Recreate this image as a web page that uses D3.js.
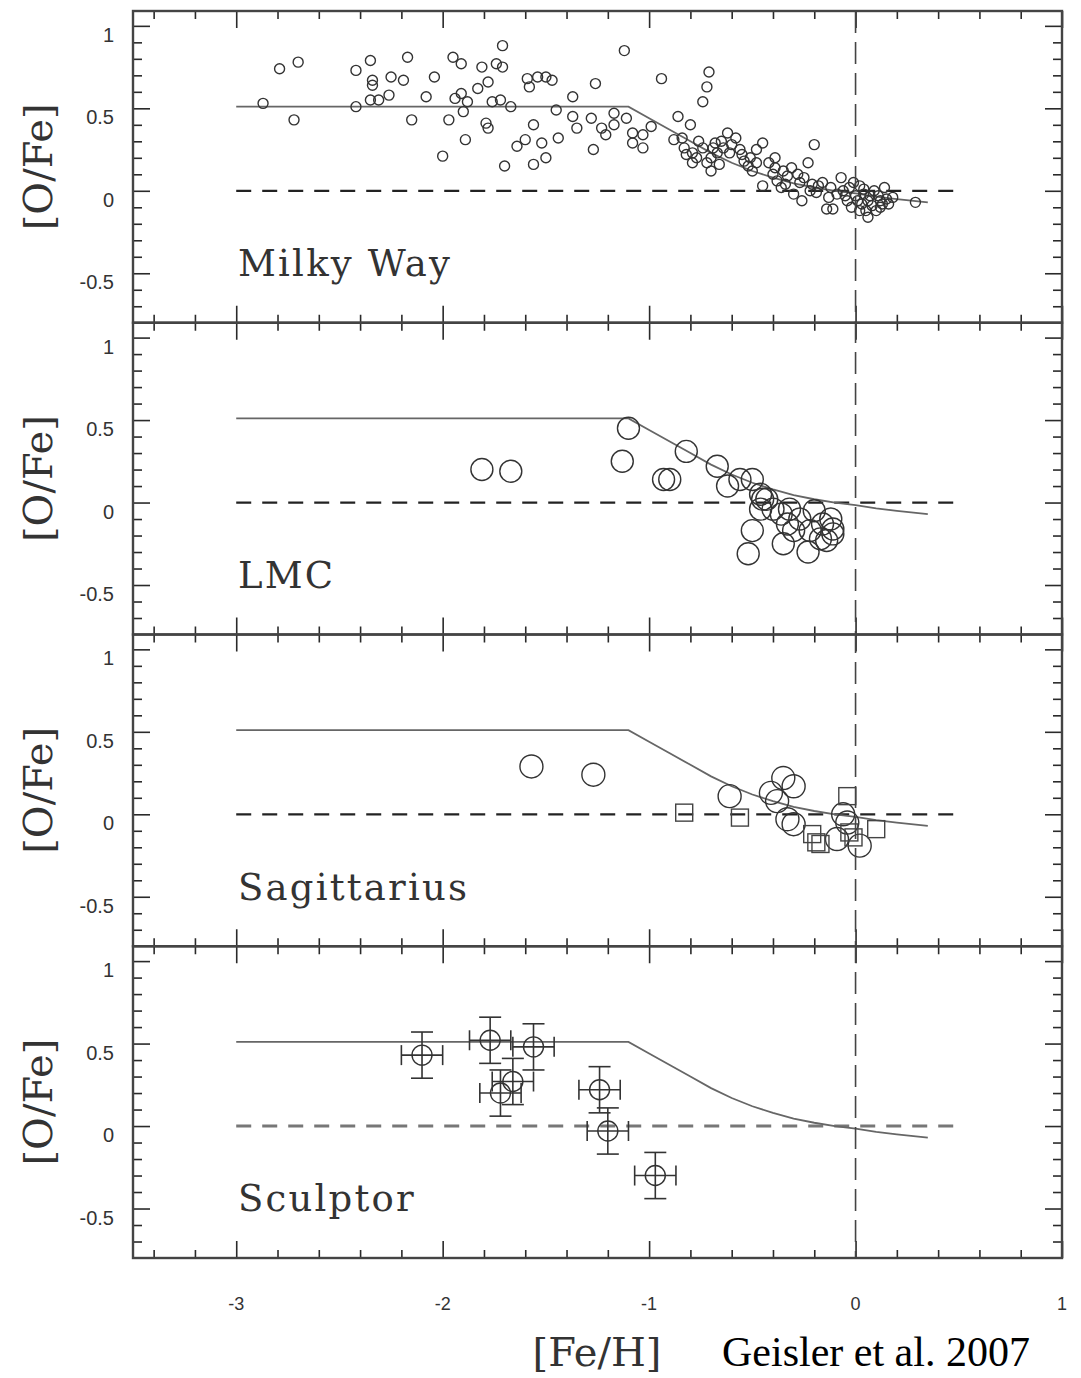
<!DOCTYPE html>
<html>
<head>
<meta charset="utf-8">
<script src="https://cdn.jsdelivr.net/npm/d3@7"></script>
<style>
  body { margin: 0; background: #fff; }
  svg { display: block; }
</style>
</head>
<body>
<svg id="chart" width="1081" height="1378"></svg>
<script>
// ---- [O/Fe] vs [Fe/H] for four galaxies ----

const panelNames = ["Milky Way", "LMC", "Sagittarius", "Sculptor"];

// Milky Way stars
const mwFeH = [-2.79,-2.70,-2.87,-2.72,-2.42,-2.42,-2.35,-2.17,-2.34,-2.34,-2.25,-2.19,-2.04,-1.95,-1.91,-1.81,-1.74,-1.71,-1.71,-1.78,
  -1.83,-2.35,-2.31,-2.26,-2.08,-2.15,-1.97,-1.94,-1.91,-1.88,-1.90,-1.89,-2.00,-1.79,-1.78,-1.76,-1.72,-1.67,-1.59,-1.58,
  -1.54,-1.50,-1.47,-1.56,-1.64,-1.60,-1.52,-1.50,-1.56,-1.70,-1.45,-1.44,-1.37,-1.37,-1.35,-1.28,-1.26,-1.27,-1.23,-1.21,
  -1.17,-1.17,-1.12,-1.11,-1.08,-1.08,-1.03,-1.03,-0.99,-0.94,-0.86,-0.80,-0.71,-0.72,-0.74,-0.88,-0.84,-0.83,-0.79,-0.79,
  -0.74,-0.72,-0.70,-0.68,-0.67,-0.62,-0.58,-0.64,-0.61,-0.56,-0.54,-0.51,-0.48,-0.50,-0.45,-0.48,-0.45,-0.39,-0.39,-0.38,
  -0.33,-0.31,-0.27,-0.23,-0.20,-0.30,-0.26,-0.19,-0.16,-0.14,-0.11,-0.07,-0.06,-0.04,-0.01,-0.02,0.00,0.02,0.02,0.06,
  0.06,0.09,0.10,0.12,0.14,0.16,0.18,0.29,-0.65,-0.60,-0.55,-0.52,-0.42,-0.35,-0.25,-0.18,-0.12,-0.09,
  0.04,0.08,-0.03,0.12,-0.70,-0.76,-0.36,-0.22,-0.13,0.03,
  0.04,0.07,0.11,0.13,0.05,-0.05,0.01,0.15,-0.40,-0.28,-0.21,-0.34,-0.82,-0.77,-0.66,-0.69];
const mwOFe = [0.74,0.78,0.53,0.43,0.73,0.51,0.79,0.81,0.67,0.64,0.69,0.67,0.69,0.81,0.77,0.75,0.77,0.88,0.75,0.66,
  0.62,0.55,0.55,0.58,0.57,0.43,0.43,0.56,0.59,0.54,0.48,0.31,0.21,0.41,0.38,0.54,0.55,0.51,0.68,0.63,
  0.69,0.69,0.67,0.40,0.27,0.31,0.29,0.20,0.16,0.15,0.49,0.32,0.57,0.45,0.38,0.44,0.65,0.25,0.38,0.34,
  0.47,0.40,0.85,0.44,0.35,0.29,0.34,0.26,0.39,0.68,0.45,0.40,0.72,0.63,0.54,0.31,0.32,0.26,0.23,0.17,
  0.26,0.17,0.12,0.29,0.23,0.35,0.32,0.26,0.23,0.25,0.18,0.20,0.17,0.12,0.29,0.25,0.03,0.20,0.14,0.06,
  0.09,0.14,0.05,0.17,0.28,-0.02,-0.06,-0.01,0.05,-0.11,-0.11,0.08,0.00,-0.06,0.05,-0.10,-0.03,0.03,-0.12,-0.06,
  -0.16,0.00,-0.12,-0.06,0.02,-0.08,-0.04,-0.07,0.30,0.28,0.22,0.15,0.17,0.12,0.08,0.03,0.02,-0.02,
  -0.02,-0.09,0.02,-0.10,0.20,0.30,0.02,0.00,-0.04,-0.08,
  0.01,-0.03,-0.03,-0.08,-0.12,-0.03,-0.06,-0.05,0.10,0.10,0.04,0.04,0.22,0.20,0.16,0.26];

// LMC giants
const lmcFeH = [-1.81,-1.67,-1.10,-1.13,-0.93,-0.90,-0.82,-0.67,-0.62,-0.56,-0.50,-0.46,-0.45,-0.43,-0.46,-0.50,-0.52,
  -0.40,-0.36,-0.32,-0.33,-0.35,-0.30,-0.27,-0.23,-0.20,-0.22,-0.17,-0.12,-0.11,-0.11,-0.14,-0.16];
const lmcOFe = [0.20,0.19,0.45,0.25,0.14,0.14,0.31,0.22,0.10,0.14,0.14,0.05,0.02,0.02,-0.04,-0.17,-0.31,
  -0.04,-0.07,-0.04,-0.13,-0.25,-0.17,-0.10,-0.30,-0.05,-0.17,-0.22,-0.10,-0.16,-0.19,-0.23,-0.13];

// Sagittarius: two samples (circles and squares)
const sgrCircFeH = [-1.57,-1.27,-0.61,-0.35,-0.30,-0.41,-0.38,-0.33,-0.30,-0.06,-0.09,0.02,-0.04];
const sgrCircOFe = [0.29,0.24,0.11,0.22,0.17,0.13,0.08,-0.03,-0.06,0.00,-0.15,-0.19,-0.05];
const sgrSqFeH = [-0.83,-0.56,-0.04,-0.21,-0.17,-0.19,-0.03,0.10,-0.01];
const sgrSqOFe = [0.01,-0.02,0.11,-0.12,-0.18,-0.17,-0.11,-0.09,-0.14];

// Sculptor stars with uncertainties
const sclFeH = [-2.10,-1.77,-1.56,-1.66,-1.72,-1.24,-1.20,-0.97];
const sclOFe = [0.43,0.52,0.48,0.27,0.20,0.22,-0.03,-0.30];
const sclFeHErr = [0.10,0.10,0.10,0.10,0.10,0.10,0.10,0.10];
const sclOFeErr = [0.14,0.14,0.14,0.14,0.14,0.14,0.14,0.14];

// Milky Way chemical-evolution model (same in every panel)
const modelFeH = [-3.0,-1.1,-1.0,-0.9,-0.8,-0.7,-0.6,-0.5,-0.4,-0.3,-0.2,-0.1,0.0,0.1,0.2,0.35];
const modelOFe = [0.51,0.51,0.44,0.37,0.30,0.23,0.17,0.12,0.08,0.045,0.02,0.0,-0.015,-0.035,-0.05,-0.07];

// axis ticks
const xMajor = [-3,-2,-1,0,1];
const xMinor = d3.range(-17, 5).map(k => +(k * 0.2).toFixed(1)).filter(v => !Number.isInteger(v));
const yMajor = [-0.5, 0, 0.5, 1];
const yMinor = d3.range(-7, 11).map(k => k / 10).filter(v => Math.abs(v * 2 - Math.round(v * 2)) > 1e-6);
const xTickLabels = ["-3","-2","-1","0","1"];
const yTickLabels = ["-0.5","0","0.5","1"];

// ---- layout ----
const svg = d3.select("#chart");
const L = 133, R = 1062, T0 = 11, PH = 311.75;
const x = d3.scaleLinear().domain([-3.5, 1]).range([L, R]);
const yDom = [-0.8, 1.09];
const ink = "#2a2a2a";

const zip = (a, b) => a.map((v, i) => [v, b[i]]);

panelNames.forEach((name, i) => {
  const top = T0 + i * PH, bot = top + PH;
  const y = d3.scaleLinear().domain(yDom).range([bot, top]);
  const g = svg.append("g");

  // inward ticks on all four sides
  const addAxis = (axis, tx, ty) => {
    const a = g.append("g").attr("transform", `translate(${tx},${ty})`).call(axis);
    a.select(".domain").remove();
    a.selectAll("line").attr("stroke", ink).attr("stroke-width", 1.6);
  };
  addAxis(d3.axisTop(x).tickValues(xMajor).tickSize(17).tickFormat(""), 0, bot);
  addAxis(d3.axisTop(x).tickValues(xMinor).tickSize(8).tickFormat(""), 0, bot);
  addAxis(d3.axisBottom(x).tickValues(xMajor).tickSize(17).tickFormat(""), 0, top);
  addAxis(d3.axisBottom(x).tickValues(xMinor).tickSize(8).tickFormat(""), 0, top);
  addAxis(d3.axisRight(y).tickValues(yMajor).tickSize(17).tickFormat(""), L, 0);
  addAxis(d3.axisRight(y).tickValues(yMinor).tickSize(9).tickFormat(""), L, 0);
  addAxis(d3.axisLeft(y).tickValues(yMajor).tickSize(17).tickFormat(""), R, 0);
  addAxis(d3.axisLeft(y).tickValues(yMinor).tickSize(9).tickFormat(""), R, 0);

  // frame
  g.append("rect").attr("x", L).attr("y", top).attr("width", R - L).attr("height", PH)
    .attr("fill", "none").attr("stroke", "#444").attr("stroke-width", 2.4);

  // y tick labels
  g.selectAll("text.ytl").data(yMajor).join("text")
    .attr("class", "ytl")
    .attr("x", L - 19).attr("y", d => y(d) + 9).attr("dy", "0.35em")
    .attr("text-anchor", "end")
    .attr("font-family", "Liberation Sans, Arial, sans-serif").attr("font-size", 20)
    .attr("fill", "#333")
    .text((d, k) => yTickLabels[k]);

  // y axis title
  g.append("text")
    .attr("transform", `translate(52,${(top + bot) / 2}) rotate(-90)`)
    .attr("text-anchor", "middle")
    .attr("font-family", "DejaVu Serif, serif").attr("font-size", 40)
    .attr("fill", "#333")
    .text("[O/Fe]");

  // solar-ratio reference line
  g.append("line")
    .attr("x1", x(-3)).attr("x2", x(0.5)).attr("y1", y(0)).attr("y2", y(0))
    .attr("stroke", i === 3 ? "#777" : "#222").attr("stroke-width", i === 3 ? 3 : 2.2)
    .attr("stroke-dasharray", "15,11");

  // model track
  g.append("path")
    .datum(zip(modelFeH, modelOFe))
    .attr("fill", "none").attr("stroke", "#666").attr("stroke-width", 1.8)
    .attr("d", d3.line().x(d => x(d[0])).y(d => y(d[1])));

  // galaxy name
  g.append("text")
    .attr("x", 238).attr("y", top + 265)
    .attr("font-family", "DejaVu Serif, serif").attr("font-size", 37)
    .attr("letter-spacing", 2.2)
    .attr("fill", "#333")
    .text(name);

  const circles = (xs, ys, r) => g.append("g").selectAll("circle").data(zip(xs, ys)).join("circle")
    .attr("cx", d => x(d[0])).attr("cy", d => y(d[1])).attr("r", r)
    .attr("fill", "none").attr("stroke", "#333").attr("stroke-width", 1.4);

  if (i === 0) circles(mwFeH, mwOFe, 5);
  if (i === 1) circles(lmcFeH, lmcOFe, 11);
  if (i === 2) {
    circles(sgrCircFeH, sgrCircOFe, 11.5);
    g.append("g").selectAll("rect").data(zip(sgrSqFeH, sgrSqOFe)).join("rect")
      .attr("x", d => x(d[0]) - 8.5).attr("y", d => y(d[1]) - 8.5)
      .attr("width", 17).attr("height", 17)
      .attr("fill", "none").attr("stroke", "#444").attr("stroke-width", 1.4);
  }
  if (i === 3) {
    const pts = sclFeH.map((v, k) => ({ fx: v, fy: sclOFe[k], ex: sclFeHErr[k], ey: sclOFeErr[k] }));
    const eg = g.append("g").attr("stroke", "#333").attr("stroke-width", 1.6).attr("fill", "none");
    pts.forEach(p => {
      const cx = x(p.fx), cy = y(p.fy);
      const x0 = x(p.fx - p.ex), x1 = x(p.fx + p.ex);
      const y0 = y(p.fy - p.ey), y1 = y(p.fy + p.ey);
      eg.append("line").attr("x1", x0).attr("x2", x1).attr("y1", cy).attr("y2", cy);
      eg.append("line").attr("x1", cx).attr("x2", cx).attr("y1", y0).attr("y2", y1);
      eg.append("line").attr("x1", x0).attr("x2", x0).attr("y1", cy - 10).attr("y2", cy + 10);
      eg.append("line").attr("x1", x1).attr("x2", x1).attr("y1", cy - 10).attr("y2", cy + 10);
      eg.append("line").attr("x1", cx - 11).attr("x2", cx + 11).attr("y1", y0).attr("y2", y0);
      eg.append("line").attr("x1", cx - 11).attr("x2", cx + 11).attr("y1", y1).attr("y2", y1);
    });
    circles(sclFeH, sclOFe, 10);
  }
});

// solar metallicity line through all panels
svg.append("line")
  .attr("x1", x(0)).attr("x2", x(0)).attr("y1", T0).attr("y2", T0 + 4 * PH)
  .attr("stroke", "#444").attr("stroke-width", 1.6).attr("stroke-dasharray", "22,9");

// x tick labels and title
const bottom = T0 + 4 * PH;
svg.selectAll("text.xtl").data(xMajor).join("text")
  .attr("class", "xtl")
  .attr("x", d => x(d)).attr("y", bottom + 46).attr("dy", "0.35em")
  .attr("text-anchor", "middle")
  .attr("font-family", "Liberation Sans, Arial, sans-serif").attr("font-size", 18)
  .attr("fill", "#333")
  .text((d, k) => xTickLabels[k]);

svg.append("text")
  .attr("x", 597).attr("y", bottom + 108)
  .attr("text-anchor", "middle")
  .attr("font-family", "DejaVu Serif, serif").attr("font-size", 40)
  .attr("fill", "#333")
  .text("[Fe/H]");

svg.append("text")
  .attr("x", 722).attr("y", 1366)
  .attr("font-family", "Liberation Serif, Times New Roman, serif").attr("font-size", 42)
  .attr("fill", "#000")
  .text("Geisler et al. 2007");
</script>
</body>
</html>
